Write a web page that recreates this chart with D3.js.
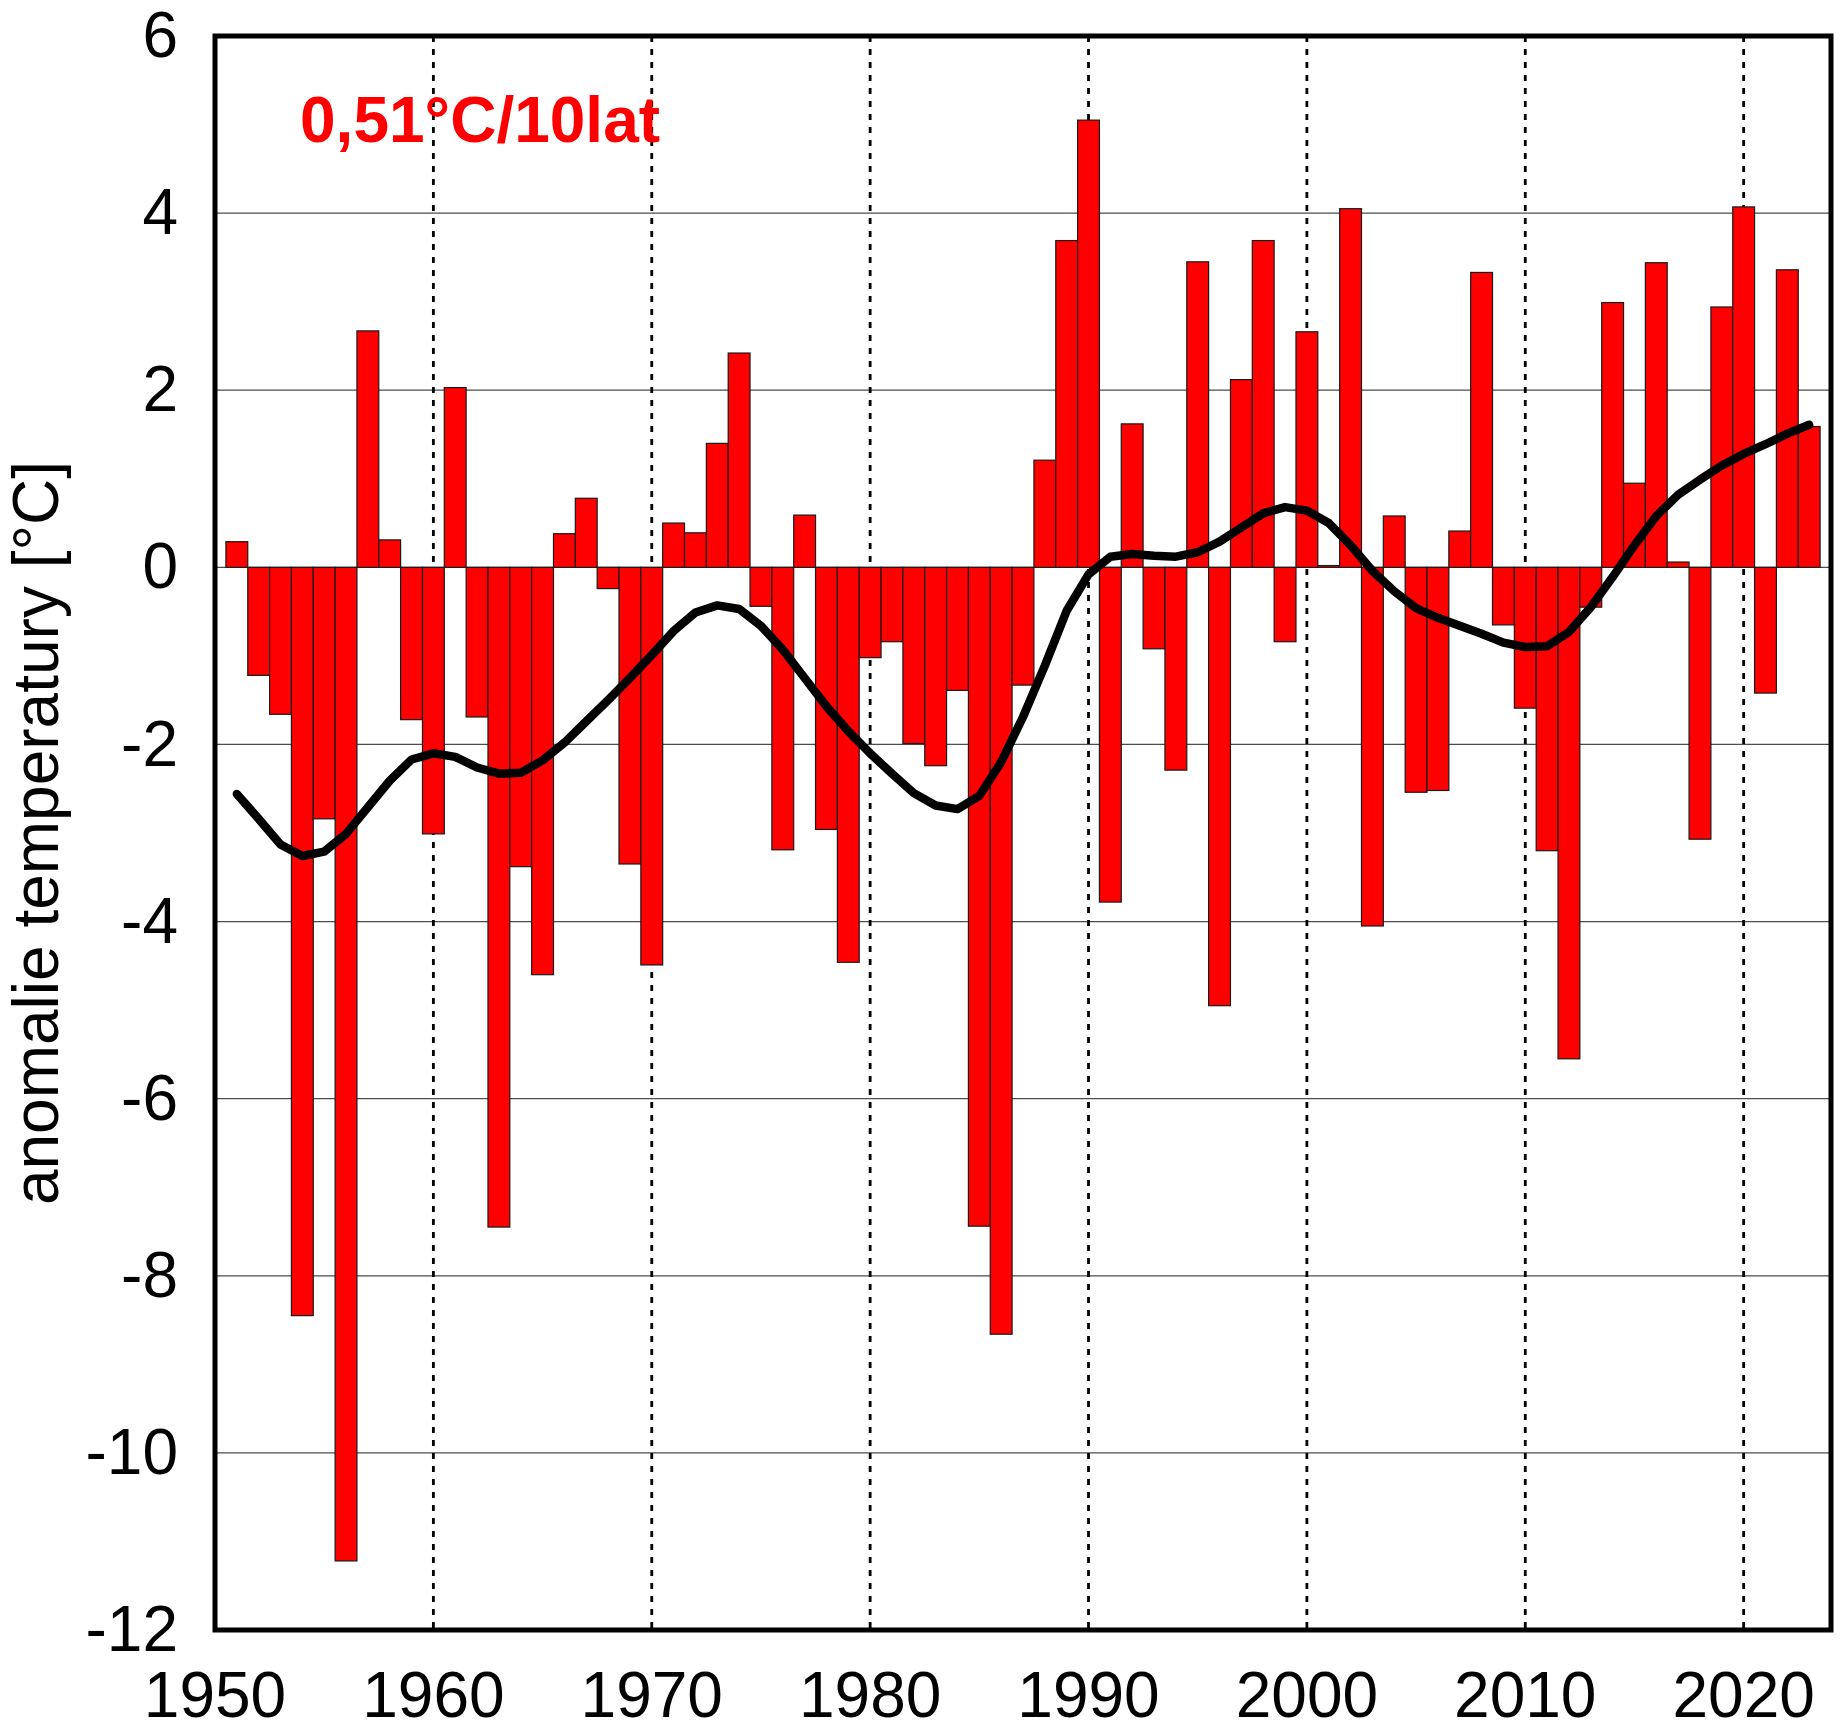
<!DOCTYPE html>
<html>
<head>
<meta charset="utf-8">
<script src="https://cdn.jsdelivr.net/npm/d3@7"></script>
<style>
  html, body { margin: 0; padding: 0; background: #fff; }
  svg { display: block; }
</style>
</head>
<body>
<script>
const years = d3.range(1951, 2024);
const anomalies = [
  0.29, -1.22, -1.66, -8.45, -2.84, -11.22, 2.67, 0.31, -1.72, -3.01,
  2.03, -1.69, -7.45, -3.38, -4.60, 0.38, 0.78, -0.24, -3.35, -4.49,
  0.50, 0.39, 1.40, 2.42, -0.44, -3.19, 0.59, -2.96, -4.46, -1.02,
  -0.84, -1.99, -2.24, -1.39, -7.44, -8.66, -1.33, 1.21, 3.69, 5.05,
  -3.78, 1.62, -0.92, -2.29, 3.45, -4.95, 2.12, 3.69, -0.84, 2.66,
  0.02, 4.05, -4.05, 0.58, -2.54, -2.52, 0.41, 3.33, -0.65, -1.59,
  -3.20, -5.55, -0.45, 2.99, 0.95, 3.44, 0.06, -3.07, 2.94, 4.07,
  -1.42, 3.36, 1.59
];
const smooth = [
  -2.56, -2.84, -3.13, -3.26, -3.21, -3.01, -2.71, -2.41, -2.17, -2.10,
  -2.14, -2.26, -2.33, -2.32, -2.18, -1.98, -1.74, -1.50, -1.25, -0.99,
  -0.72, -0.51, -0.43, -0.47, -0.66, -0.93, -1.25, -1.57, -1.85, -2.10,
  -2.33, -2.55, -2.69, -2.73, -2.58, -2.20, -1.69, -1.11, -0.49, -0.08,
  0.12, 0.15, 0.13, 0.12, 0.17, 0.29, 0.45, 0.61, 0.68, 0.64,
  0.50, 0.25, -0.04, -0.27, -0.46, -0.57, -0.66, -0.75, -0.85, -0.90,
  -0.89, -0.73, -0.45, -0.11, 0.25, 0.58, 0.82, 0.99, 1.15, 1.28,
  1.39, 1.51, 1.61
];
const yTicks = [6, 4, 2, 0, -2, -4, -6, -8, -10, -12];
const xTicks = [1950, 1960, 1970, 1980, 1990, 2000, 2010, 2020];
const trendLabel = "0,51°C/10lat";
const yLabel = "anomalie temperatury [°C]";

const W = 1843, H = 1734;
const L = 215, R = 1831, T = 36, B = 1630;
const FONT = "'Liberation Sans', Arial, sans-serif";

const svg = d3.select("body").append("svg").attr("width", W).attr("height", H);

const x = d3.scaleLinear().domain([1950, 2024]).range([L, R]);
const y = d3.scaleLinear().domain([-12, 6]).range([B, T]);

// horizontal grid lines
svg.append("g").selectAll("line")
  .data(yTicks.filter(v => v > -12 && v < 6))
  .join("line")
  .attr("x1", L).attr("x2", R)
  .attr("y1", d => y(d)).attr("y2", d => y(d))
  .attr("stroke", "#4d4d4d").attr("stroke-width", 1.3);

// vertical dotted lines
svg.append("g").selectAll("line")
  .data(xTicks.filter(v => v > 1950))
  .join("line")
  .attr("x1", d => x(d)).attr("x2", d => x(d))
  .attr("y1", T).attr("y2", B)
  .attr("stroke", "#000").attr("stroke-width", 2.8)
  .attr("stroke-dasharray", "6,7");

// bars
const data = years.map((yr, i) => ({ yr, v: anomalies[i], s: smooth[i] }));
svg.append("g").selectAll("rect")
  .data(data)
  .join("rect")
  .attr("x", d => x(d.yr - 0.5))
  .attr("width", d => x(d.yr + 0.5) - x(d.yr - 0.5))
  .attr("y", d => Math.min(y(d.v), y(0)))
  .attr("height", d => Math.abs(y(d.v) - y(0)))
  .attr("fill", "#ff0000")
  .attr("stroke", "#1a1a1a").attr("stroke-width", 1.2);

// smoothed line
const line = d3.line().x(d => x(d.yr)).y(d => y(d.s));
svg.append("path")
  .datum(data)
  .attr("d", line)
  .attr("fill", "none")
  .attr("stroke", "#000")
  .attr("stroke-width", 8.5)
  .attr("stroke-linejoin", "round")
  .attr("stroke-linecap", "round");

// frame
svg.append("rect")
  .attr("x", L).attr("y", T)
  .attr("width", R - L).attr("height", B - T)
  .attr("fill", "none").attr("stroke", "#000").attr("stroke-width", 5);

// y tick labels
svg.append("g").selectAll("text")
  .data(yTicks)
  .join("text")
  .attr("x", 178)
  .attr("y", d => y(d))
  .attr("dy", "0.33em")
  .attr("text-anchor", "end")
  .attr("font-family", FONT)
  .attr("font-size", 64)
  .attr("fill", "#000")
  .text(d => String(d));

// x tick labels
svg.append("g").selectAll("text")
  .data(xTicks)
  .join("text")
  .attr("x", d => x(d))
  .attr("y", 1717)
  .attr("text-anchor", "middle")
  .attr("font-family", FONT)
  .attr("font-size", 64)
  .attr("fill", "#000")
  .text(d => String(d));

// y axis label
svg.append("text")
  .attr("transform", `translate(58, ${(T + B) / 2}) rotate(-90)`)
  .attr("text-anchor", "middle")
  .attr("font-family", FONT)
  .attr("font-size", 64)
  .attr("fill", "#000")
  .text(yLabel);

// trend label
svg.append("text")
  .attr("x", 300)
  .attr("y", 142)
  .attr("font-family", FONT)
  .attr("font-size", 64)
  .attr("font-weight", "bold")
  .attr("fill", "#ff0000")
  .text(trendLabel);
</script>
</body>
</html>
